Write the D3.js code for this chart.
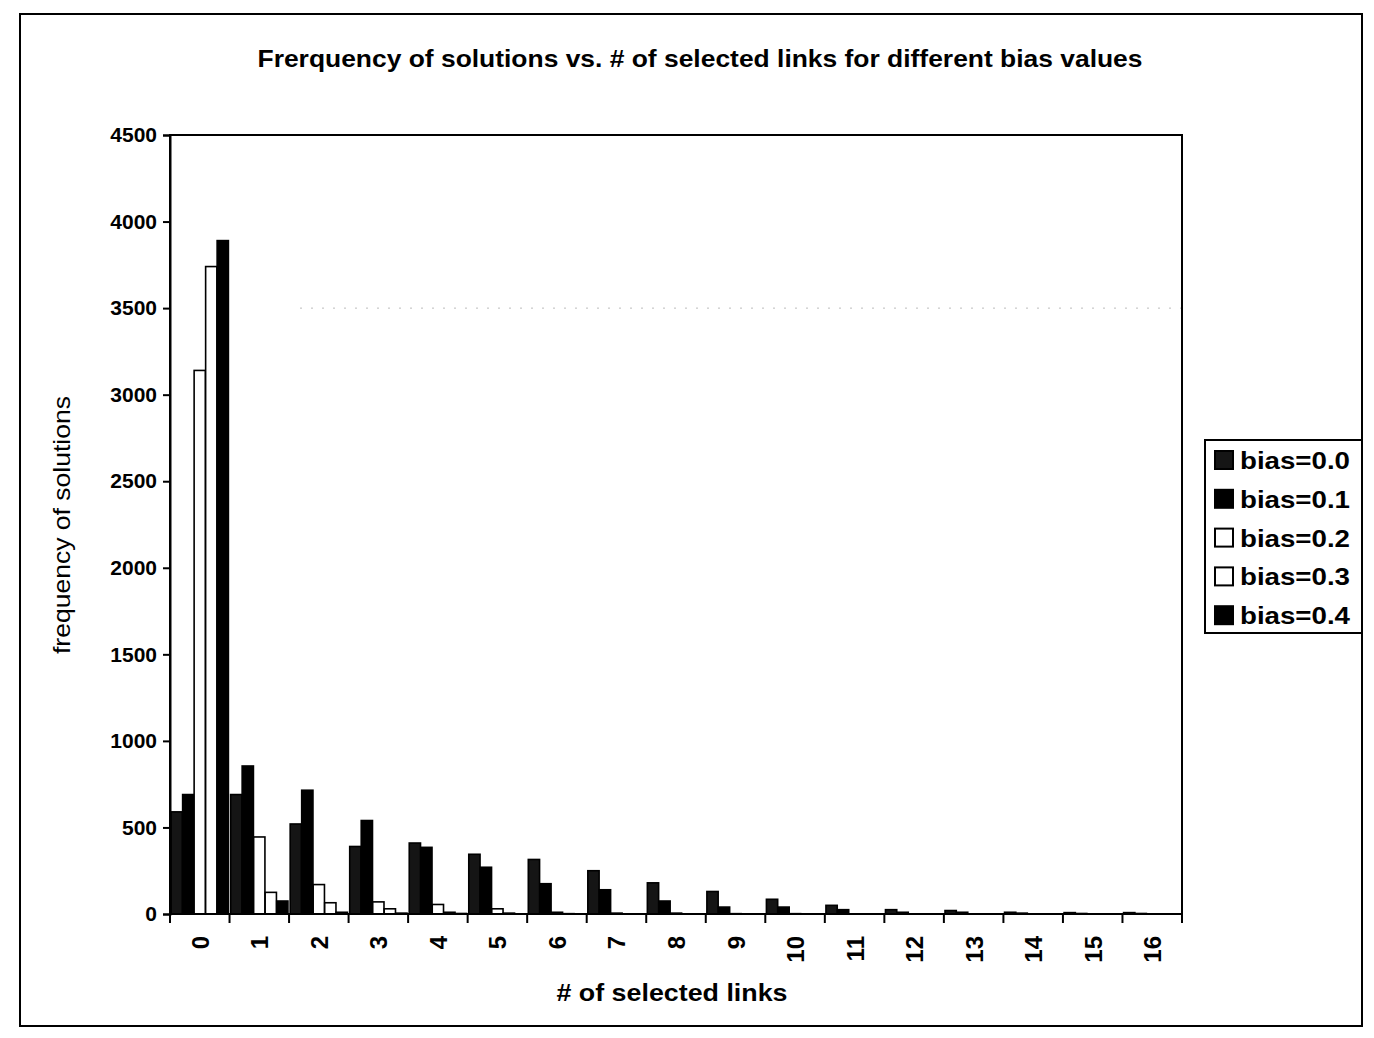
<!DOCTYPE html>
<html>
<head>
<meta charset="utf-8">
<script src="https://cdn.jsdelivr.net/npm/d3@7"></script>
<style>
  body { margin: 0; background: #fff; }
  text { font-family: "Liberation Sans", Arial, sans-serif; fill: #000; }
</style>
</head>
<body>
<svg id="chart" width="1374" height="1038"></svg>
<script>
// categories = number of selected links
const categories = d3.range(0, 17).map(String);
const seriesNames = ["bias=0.0", "bias=0.1", "bias=0.2", "bias=0.3", "bias=0.4"];
// frequency of solutions per series
const bias00 = [590, 690, 520, 390, 410, 345, 315, 250, 180, 130, 85, 50, 25, 20, 10, 8, 8];
const bias01 = [690, 855, 715, 540, 385, 270, 175, 140, 75, 40, 40, 25, 10, 10, 5, 3, 3];
const bias02 = [3140, 445, 170, 70, 55, 30, 10, 5, 5, 2, 2, 1, 0, 0, 0, 0, 0];
const bias03 = [3740, 125, 65, 30, 10, 5, 2, 0, 0, 0, 0, 0, 0, 0, 0, 0, 0];
const bias04 = [3890, 75, 10, 5, 3, 0, 0, 0, 0, 0, 0, 0, 0, 0, 0, 0, 0];
const yTicks = [0, 500, 1000, 1500, 2000, 2500, 3000, 3500, 4000, 4500];

const allSeries = [bias00, bias01, bias02, bias03, bias04];
const fills = ["#151515", "#000", "#fff", "#fff", "#000"];

const svg = d3.select("#chart");

// outer chart border (scanned page frame)
svg.append("rect")
  .attr("x", 20).attr("y", 14)
  .attr("width", 1342).attr("height", 1012)
  .attr("fill", "none").attr("stroke", "#000").attr("stroke-width", 2);

const plot = { left: 170, right: 1182, top: 135, bottom: 914 };

const x = d3.scaleBand().domain(categories)
  .range([plot.left, plot.right]).paddingInner(0.03).paddingOuter(0.015);
const xSub = d3.scaleBand().domain(d3.range(seriesNames.length))
  .range([0, x.bandwidth()]).padding(0.02);
const y = d3.scaleLinear().domain([0, 4500]).range([plot.bottom, plot.top]);

// faint gridline that survived the scan
svg.append("line")
  .attr("x1", plot.left + 130).attr("x2", plot.right)
  .attr("y1", y(3500)).attr("y2", y(3500))
  .attr("stroke", "#bbb").attr("stroke-width", 1).attr("stroke-dasharray", "2,9");

// bars
const rows = categories.map((c, i) => ({ c, vals: allSeries.map(s => s[i]) }));
const groups = svg.append("g").selectAll("g").data(rows).join("g")
  .attr("transform", d => `translate(${x(d.c)},0)`);
groups.selectAll("rect")
  .data(d => d.vals.map((v, k) => ({ v, k })))
  .join("rect")
  .attr("x", d => xSub(d.k))
  .attr("width", xSub.bandwidth())
  .attr("y", d => y(d.v))
  .attr("height", d => y(0) - y(d.v))
  .attr("fill", d => fills[d.k])
  .attr("stroke", "#000")
  .attr("stroke-width", 1.6);

// plot area border
svg.append("rect")
  .attr("x", plot.left).attr("y", plot.top)
  .attr("width", plot.right - plot.left).attr("height", plot.bottom - plot.top)
  .attr("fill", "none").attr("stroke", "#000").attr("stroke-width", 2);

// y axis
const yAxis = svg.append("g")
  .attr("transform", `translate(${plot.left},0)`)
  .call(d3.axisLeft(y).tickValues(yTicks).tickFormat(d3.format("d")).tickSize(7).tickPadding(6));
yAxis.select(".domain").attr("stroke-width", 2);
yAxis.selectAll(".tick line").attr("stroke-width", 2);
yAxis.selectAll("text")
  .style("font-size", "21px").style("font-weight", "bold")
  .attr("font-family", null);

// x axis: ticks on category boundaries, rotated labels at centres
const step = x.step();
const bounds = categories.map(c => x(c) - step * x.paddingInner() / 2)
  .concat([x(categories[categories.length - 1]) + x.bandwidth() + step * x.paddingInner() / 2]);
svg.append("g").selectAll("line").data(bounds).join("line")
  .attr("x1", d => d).attr("x2", d => d)
  .attr("y1", plot.bottom).attr("y2", plot.bottom + 9)
  .attr("stroke", "#000").attr("stroke-width", 2);
svg.append("g").selectAll("text").data(categories).join("text")
  .attr("transform", d => `translate(${x(d) + x.bandwidth() / 2 + 9},${plot.bottom + 22}) rotate(-90)`)
  .attr("text-anchor", "end")
  .style("font-size", "24px").style("font-weight", "bold")
  .text(d => d);

// titles
svg.append("text")
  .attr("x", 700).attr("y", 67)
  .attr("text-anchor", "middle")
  .attr("textLength", 885).attr("lengthAdjust", "spacingAndGlyphs")
  .style("font-size", "24px").style("font-weight", "bold")
  .text("Frerquency of solutions vs. # of selected links for different bias values");

svg.append("text")
  .attr("x", 672).attr("y", 1001)
  .attr("text-anchor", "middle")
  .attr("textLength", 231).attr("lengthAdjust", "spacingAndGlyphs")
  .style("font-size", "24px").style("font-weight", "bold")
  .text("# of selected links");

svg.append("text")
  .attr("transform", `translate(70,525) rotate(-90)`)
  .attr("text-anchor", "middle")
  .attr("textLength", 258).attr("lengthAdjust", "spacingAndGlyphs")
  .style("font-size", "24px")
  .text("frequency of solutions");

// legend
const legend = svg.append("g").attr("transform", "translate(1205,440)");
legend.append("rect")
  .attr("width", 157).attr("height", 193)
  .attr("fill", "#fff").attr("stroke", "#000").attr("stroke-width", 2);
const items = legend.selectAll("g.item").data(seriesNames).join("g")
  .attr("class", "item")
  .attr("transform", (d, i) => `translate(0,${20 + i * 38.8})`);
items.append("rect")
  .attr("x", 10).attr("y", -9).attr("width", 18).attr("height", 18)
  .attr("fill", (d, i) => fills[i]).attr("stroke", "#000").attr("stroke-width", 2);
items.append("text")
  .attr("x", 35).attr("y", 9)
  .attr("textLength", 110).attr("lengthAdjust", "spacingAndGlyphs")
  .style("font-size", "24px").style("font-weight", "bold")
  .text(d => d);
</script>
</body>
</html>
